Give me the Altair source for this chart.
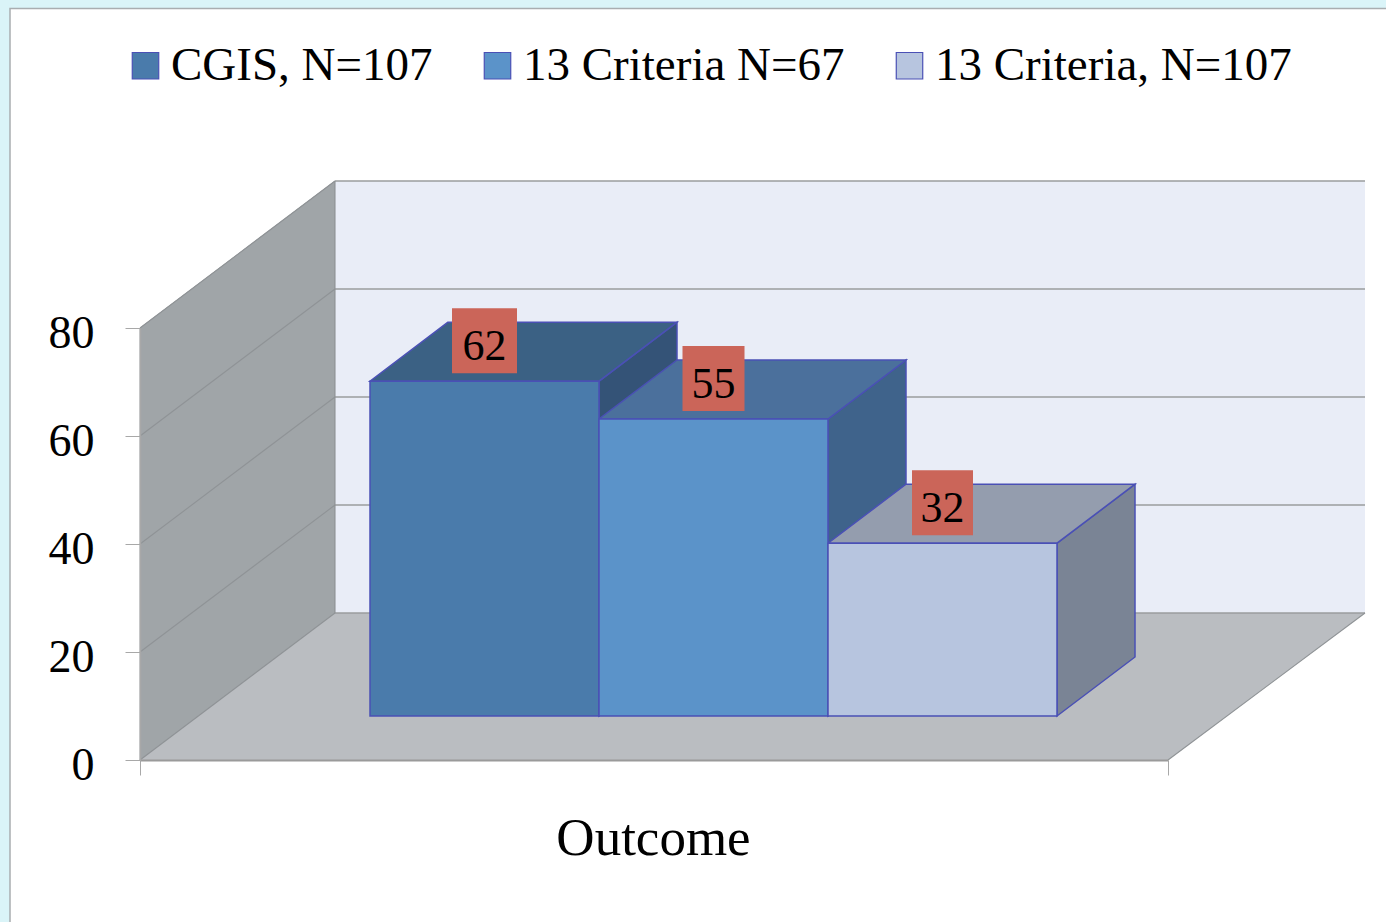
import altair as alt
import pandas as pd

# Series shown in the chart
series = ["CGIS, N=107", "13 Criteria N=67", "13 Criteria, N=107"]
values = [62, 55, 32]
front_fill = ["#4a7bab", "#5b93c9", "#b7c5df"]
top_fill = ["#3b6184", "#4b709c", "#949dae"]
side_fill = ["#345377", "#3f638b", "#7a8495"]
y_ticks = [0, 20, 40, 60, 80]

FONT = "Liberation Serif"
EDGE = "#4a50b5"
WALL_LINE = "#9c9fa2"

# Pseudo-3D geometry: x in plot pixels, y in value units
FLOOR_W = 1028
Y_MAX = 80
PX_PER_UNIT = 5.4
ROOM_DX = 195
ROOM_DY = 147 / PX_PER_UNIT
BAR_X0 = 230
BAR_W = 229
BAR_RISE = 44 / PX_PER_UNIT
BAR_DX = 78
BAR_DY = 59 / PX_PER_UNIT
LABEL_W = [65, 62, 61]
LABEL_H = 65 / PX_PER_UNIT
LABEL_LIFT = 40.5 / PX_PER_UNIT

x_scale = alt.Scale(domain=[0, FLOOR_W], range=[0, FLOOR_W], nice=False)
y_scale = alt.Scale(domain=[0, Y_MAX], nice=False)

fronts, sides, tops, boxes = [], [], [], []
for i, (name, v) in enumerate(zip(series, values)):
    left = BAR_X0 + i * BAR_W
    right = left + BAR_W
    base = BAR_RISE
    roof = BAR_RISE + v
    fronts.append(dict(series=name, x=left, x2=right, y=base, y2=roof))
    sides += [
        dict(face=i, fill=side_fill[i], x=right, y=base, y2=roof),
        dict(face=i, fill=side_fill[i], x=right + BAR_DX, y=base + BAR_DY, y2=roof + BAR_DY),
    ]
    tops += [
        dict(face=i, fill=top_fill[i], y=roof, x=left, x2=right),
        dict(face=i, fill=top_fill[i], y=roof + BAR_DY, x=left + BAR_DX, x2=right + BAR_DX),
    ]
    mid = (left + right) / 2
    boxes.append(dict(
        value=v,
        x=mid - LABEL_W[i] / 2,
        x2=mid + LABEL_W[i] / 2,
        xc=mid,
        yc=roof + LABEL_LIFT,
        y=roof + LABEL_LIFT - LABEL_H / 2,
        y2=roof + LABEL_LIFT + LABEL_H / 2,
    ))

# Slide backdrop
panel = alt.Chart(pd.DataFrame({"a": [0]})).mark_rect(
    fill="#ffffff", stroke="#a9adb0", strokeWidth=1.5, clip=False
).encode(
    x=alt.value(-130), x2=alt.value(1300), y=alt.value(-319.5), y2=alt.value(640)
)

# Chart room: left wall, floor and back wall
left_wall = alt.Chart(pd.DataFrame([
    dict(x=0, y=0, y2=Y_MAX),
    dict(x=ROOM_DX, y=ROOM_DY, y2=ROOM_DY + Y_MAX),
])).mark_area(fill="#a0a5a8", stroke=WALL_LINE, strokeWidth=1, clip=False).encode(
    x=alt.X("x:Q", scale=x_scale, title="Outcome", axis=alt.Axis(
        values=[0, FLOOR_W], labels=False, grid=False, tickSize=15, tickColor="#a8a8a8",
        domainColor="#9a9a9a", domainWidth=2, titleFont=FONT, titleFontSize=53,
        titleFontWeight="normal", titleColor="#000000", titleBaseline="alphabetic",
        titleY=94, titleX=513, zindex=1,
    )),
    y=alt.Y("y:Q", scale=y_scale, title=None, axis=alt.Axis(
        values=y_ticks, format="d", grid=False, tickSize=15, tickColor="#a8a8a8",
        domainColor="#a8a8a8", domainWidth=1.5, labelFont=FONT, labelFontSize=46,
        labelColor="#000000", labelPadding=31, labelOffset=5, zindex=1,
    )),
    y2="y2:Q",
)

back_wall = alt.Chart(pd.DataFrame([
    dict(x=ROOM_DX, x2=ROOM_DX + FLOOR_W + 2, y=ROOM_DY, y2=ROOM_DY + Y_MAX)
])).mark_rect(fill="#e9edf7", clip=False).encode(
    x=alt.X("x:Q", scale=x_scale), x2="x2:Q",
    y=alt.Y("y:Q", scale=y_scale), y2="y2:Q",
)

floor = alt.Chart(pd.DataFrame([
    dict(y=0, x=0, x2=FLOOR_W),
    dict(y=ROOM_DY, x=ROOM_DX, x2=ROOM_DX + FLOOR_W + 2),
])).mark_area(orient="horizontal", fill="#babdc1", clip=False).encode(
    y=alt.Y("y:Q", scale=y_scale),
    x=alt.X("x:Q", scale=x_scale), x2="x2:Q",
)

# Gridlines run across the back wall and diagonally down the left wall
back_lines = alt.Chart(pd.DataFrame([
    dict(x=ROOM_DX, x2=ROOM_DX + FLOOR_W + 2, y=ROOM_DY + t, y2=ROOM_DY + t) for t in y_ticks
])).mark_rule(color="#9a9c9e", strokeWidth=1.6, clip=False).encode(
    x=alt.X("x:Q", scale=x_scale), x2="x2:Q",
    y=alt.Y("y:Q", scale=y_scale), y2="y2:Q",
)
wall_lines = alt.Chart(pd.DataFrame(
    [dict(x=0, x2=ROOM_DX, y=t, y2=ROOM_DY + t) for t in y_ticks]
    + [dict(x=FLOOR_W, x2=FLOOR_W + ROOM_DX + 2, y=0, y2=ROOM_DY)]
    + [dict(x=ROOM_DX, x2=ROOM_DX, y=ROOM_DY, y2=ROOM_DY + Y_MAX)]
)).mark_rule(color="#8f9396", strokeWidth=1.1, clip=False).encode(
    x=alt.X("x:Q", scale=x_scale), x2="x2:Q",
    y=alt.Y("y:Q", scale=y_scale), y2="y2:Q",
)

# Bars: sides first, then tops, then the front faces that carry the legend
side_faces = alt.Chart(pd.DataFrame(sides)).mark_area(
    stroke=EDGE, strokeWidth=1.5, clip=False
).encode(
    x=alt.X("x:Q", scale=x_scale),
    y=alt.Y("y:Q", scale=y_scale), y2="y2:Q",
    fill=alt.Fill("fill:N", scale=None),
    detail="face:N",
)
top_faces = alt.Chart(pd.DataFrame(tops)).mark_area(
    orient="horizontal", stroke=EDGE, strokeWidth=1.5, clip=False
).encode(
    y=alt.Y("y:Q", scale=y_scale),
    x=alt.X("x:Q", scale=x_scale), x2="x2:Q",
    fill=alt.Fill("fill:N", scale=None),
    detail="face:N",
)
front_faces = alt.Chart(pd.DataFrame(fronts)).mark_rect(
    stroke=EDGE, strokeWidth=1.5, clip=False
).encode(
    x=alt.X("x:Q", scale=x_scale), x2="x2:Q",
    y=alt.Y("y:Q", scale=y_scale), y2="y2:Q",
    color=alt.Color("series:N", scale=alt.Scale(domain=series, range=front_fill), legend=alt.Legend(
        title=None, orient="none", legendX=-18, legendY=-286, direction="horizontal",
        columns=3, columnPadding=41, symbolType="square", symbolSize=700,
        symbolStrokeColor=EDGE, symbolStrokeWidth=1.2, labelFont=FONT, labelFontSize=47,
        labelColor="#000000", labelOffset=2, labelLimit=500, padding=0,
    )),
)

label_boxes = alt.Chart(pd.DataFrame(boxes)).mark_rect(fill="#cb6559", clip=False).encode(
    x=alt.X("x:Q", scale=x_scale), x2="x2:Q",
    y=alt.Y("y:Q", scale=y_scale), y2="y2:Q",
)
label_text = alt.Chart(pd.DataFrame(boxes)).mark_text(
    font=FONT, fontSize=44, color="#000000", baseline="middle", align="center", dy=6, clip=False
).encode(
    x=alt.X("xc:Q", scale=x_scale),
    y=alt.Y("yc:Q", scale=y_scale),
    text=alt.Text("value:Q", format="d"),
)

chart = alt.layer(
    panel, left_wall, back_wall, floor, back_lines, wall_lines,
    side_faces, top_faces, front_faces, label_boxes, label_text,
).resolve_scale(color="independent", fill="independent").properties(
    width=FLOOR_W,
    height=int(Y_MAX * PX_PER_UNIT),
    autosize=alt.AutoSizeParams(type="none"),
    padding={"left": 140, "top": 328, "right": 218, "bottom": 162},
    background="#daf4f8",
).configure_view(stroke=None)

chart.save("out.html", embed_options={"renderer": "svg", "actions": False})
